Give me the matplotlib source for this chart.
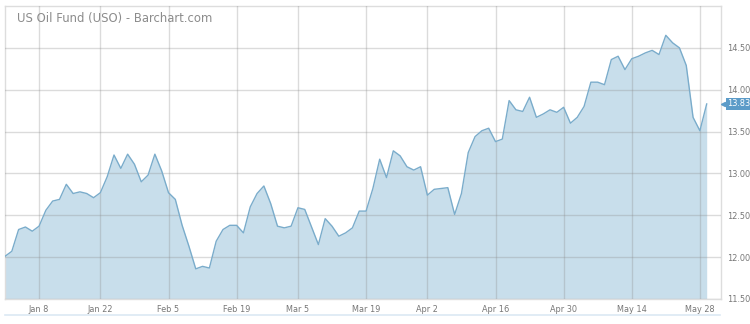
import numpy as np
import pandas as pd
from matplotlib import pyplot as plt
from matplotlib import transforms

# trading days Dec 29 2017 - May 30 2018
holidays = ['2018-01-01', '2018-01-15', '2018-02-19', '2018-03-30', '2018-05-28']
dates = pd.bdate_range('2017-12-29', '2018-05-30')
dates = dates[~dates.isin(pd.to_datetime(holidays))]

prices = [
    12.01, 12.07, 12.33, 12.36, 12.31, 12.37, 12.56, 12.67, 12.69, 12.87,
    12.76, 12.78, 12.76, 12.71, 12.77, 12.96, 13.22, 13.06, 13.23, 13.11,
    12.90, 12.98, 13.23, 13.03, 12.77, 12.69, 12.38, 12.13, 11.86, 11.89,
    11.87, 12.19, 12.33, 12.38, 12.38, 12.29, 12.60, 12.76, 12.85, 12.64,
    12.37, 12.35, 12.37, 12.59, 12.57, 12.36, 12.15, 12.46, 12.37, 12.25,
    12.29, 12.35, 12.55, 12.55, 12.82, 13.17, 12.95, 13.27, 13.21, 13.08,
    13.04, 13.08, 12.74, 12.81, 12.82, 12.83, 12.51, 12.76, 13.25, 13.44,
    13.51, 13.54, 13.38, 13.41, 13.87, 13.76, 13.74, 13.91, 13.67, 13.71,
    13.76, 13.73, 13.79, 13.60, 13.67, 13.80, 14.09, 14.09, 14.06, 14.36,
    14.40, 14.24, 14.37, 14.40, 14.44, 14.47, 14.42, 14.65, 14.56, 14.50,
    14.29, 13.67, 13.51, 13.83,
]

tick_dates = ['2018-01-08', '2018-01-22', '2018-02-05', '2018-02-19', '2018-03-05',
              '2018-03-19', '2018-04-02', '2018-04-16', '2018-04-30', '2018-05-14',
              '2018-05-28']
tick_labels = ['Jan 8', 'Jan 22', 'Feb 5', 'Feb 19', 'Mar 5', 'Mar 19', 'Apr 2',
               'Apr 16', 'Apr 30', 'May 14', 'May 28']
y_ticks = [11.5, 12.0, 12.5, 13.0, 13.5, 14.0, 14.5]

x = np.arange(len(prices))
tick_pos = dates.searchsorted(pd.to_datetime(tick_dates))

fig = plt.figure(figsize=(7.5, 3.24), dpi=100)
ax = fig.add_axes([5 / 750, 1 - 299 / 324, 716 / 750, 293 / 324])

ax.fill_between(x, prices, 11.5, color='#c8deeb', lw=0, zorder=1)
ax.plot(x, prices, color='#7aaccb', lw=1.0, zorder=3)

ax.set_xlim(0, 105.1)
ax.set_ylim(11.5, 15.0)
ax.set_xticks(tick_pos)
ax.set_xticklabels(tick_labels)
ax.set_yticks(y_ticks)
ax.set_yticklabels(['%.2f' % v for v in y_ticks])
ax.yaxis.tick_right()
ax.tick_params(axis='both', length=0, labelsize=5.9, colors='#777777')
ax.tick_params(axis='x', pad=4)
ax.tick_params(axis='y', pad=4.5)
ax.grid(True, color='#8a8a8a', alpha=0.3, lw=1, zorder=2)
ax.set_axisbelow(False)
for s in ax.spines.values():
    s.set_color('#dddddd')
    s.set_linewidth(1)

ax.text(0.017, 0.958, 'US Oil Fund (USO) - Barchart.com', transform=ax.transAxes,
        fontsize=8.4, color='#8c8c8c', ha='left', va='center')

# last value tag with small pointer
tr = transforms.blended_transform_factory(ax.transAxes, ax.transData)
ax.plot([1.003], [prices[-1]], marker='<', ms=3, color='#5b9bc8', transform=tr,
        clip_on=False, zorder=5)
ax.annotate('%.2f' % prices[-1], xy=(1.0, prices[-1]), xycoords=tr,
            xytext=(4.2, 0), textcoords='offset points', fontsize=5.9, color='white',
            ha='left', va='center',
            bbox=dict(boxstyle='square,pad=0.15', fc='#5b9bc8', ec='none'),
            annotation_clip=False)

# thin blue rule under the date labels
fig.add_artist(plt.Line2D([5 / 750, 720 / 750], [1 - 315 / 324] * 2,
                          color='#dce9f4', lw=1.2))

fig.savefig('out.png', dpi=100)
